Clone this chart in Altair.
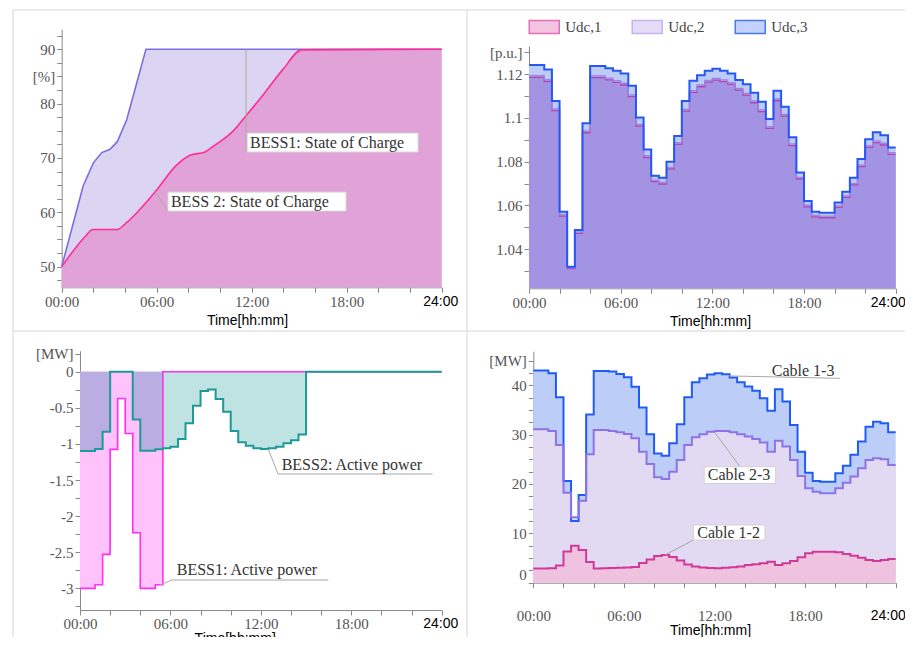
import altair as alt
import pandas as pd

SERIF = "Liberation Serif"
SANS = "Liberation Sans"

# ---------------- data ----------------
slot_hours = [i * 0.5 for i in range(49)]  # 00:00 ... 24:00, half-hour steps

# state of charge [%]
soc1_hours = [0, 1.36, 2.0, 2.53, 3.05, 3.51, 4.1, 5.32, 24]
soc1_values = [50, 64.9, 69.1, 71.0, 71.6, 73.0, 77.0, 90, 90]
soc2_hours = [0, 1.47, 1.96, 3.51, 4.06, 6.0, 7.16, 8.1, 9.05, 9.54, 10.0, 10.84,
              11.68, 12.74, 14.0, 15.16, 24]
soc2_values = [50, 55.5, 56.85, 56.85, 58.0, 64.1, 68.4, 70.5, 71.1, 72.1, 73.0, 75.0,
               77.9, 81.7, 86.4, 89.9, 90]

# DC voltages [p.u.] per half hour
udc1 = [1.1185, 1.1185, 1.1166, 1.1033, 1.0551, 1.0312, 1.0473, 1.0932, 1.1184, 1.1184,
        1.1173, 1.1162, 1.1150, 1.1097, 1.0962, 1.0819, 1.0709, 1.0698, 1.0767, 1.0879,
        1.1031, 1.1116, 1.1142, 1.1163, 1.1172, 1.1165, 1.1153, 1.1127, 1.1104, 1.1069,
        1.1028, 1.0952, 1.1078, 1.1008, 1.0873, 1.0721, 1.0594, 1.0548, 1.0544, 1.0544,
        1.0591, 1.0637, 1.0694, 1.0777, 1.0865, 1.0887, 1.0876, 1.0833]
udc2 = [1.1193, 1.1193, 1.1174, 1.1041, 1.0558, 1.0316, 1.0480, 1.0940, 1.1192, 1.1192,
        1.1181, 1.1170, 1.1158, 1.1105, 1.0970, 1.0827, 1.0716, 1.0705, 1.0774, 1.0887,
        1.1039, 1.1124, 1.1150, 1.1171, 1.1180, 1.1173, 1.1161, 1.1135, 1.1112, 1.1077,
        1.1036, 1.0960, 1.1086, 1.1016, 1.0881, 1.0728, 1.0601, 1.0555, 1.0551, 1.0551,
        1.0598, 1.0644, 1.0701, 1.0785, 1.0873, 1.0895, 1.0884, 1.0841]
udc3 = [1.1241, 1.1241, 1.1221, 1.1077, 1.0571, 1.0320, 1.0488, 1.0975, 1.1237, 1.1237,
        1.1226, 1.1215, 1.1203, 1.1147, 1.1002, 1.0856, 1.0736, 1.0727, 1.0800, 1.0917,
        1.1077, 1.1169, 1.1195, 1.1215, 1.1224, 1.1215, 1.1203, 1.1173, 1.1153, 1.1115,
        1.1074, 1.0995, 1.1124, 1.1051, 1.0911, 1.0751, 1.0620, 1.0571, 1.0567, 1.0567,
        1.0614, 1.0663, 1.0727, 1.0812, 1.0902, 1.0934, 1.0921, 1.0865]

# BESS active power [MW] per half hour
p_bess1 = [-3.0, -3.0, -2.95, -2.53, -1.075, -0.37, -0.855, -2.23, -3.0, -3.0, -2.95, 0,
           0, 0, 0, 0, 0, 0, 0, 0, 0, 0, 0, 0, 0, 0, 0, 0, 0, 0, 0, 0,
           0, 0, 0, 0, 0, 0, 0, 0, 0, 0, 0, 0, 0, 0, 0, 0]
p_bess2 = [-1.098, -1.098, -1.07, -0.83, 0, 0, 0, -0.66, -1.094, -1.094, -1.075, -1.06,
           -1.04, -0.93, -0.715, -0.47, -0.268, -0.245, -0.378, -0.554, -0.82, -0.978,
           -1.024, -1.06, -1.07, -1.06, -1.04, -0.99, -0.95, -0.87, 0, 0,
           0, 0, 0, 0, 0, 0, 0, 0, 0, 0, 0, 0, 0, 0, 0, 0]

# cable flows [MW] per half hour
cable_13 = [42.97, 42.97, 42.43, 37.57, 20.6, 12.5, 17.77, 34.1, 42.9, 42.9, 42.77, 42.3,
            41.6, 39.7, 35.5, 30.07, 26.2, 25.74, 28.24, 32.1, 37.57, 40.6, 41.4, 42.2,
            42.43, 42.23, 41.55, 40.6, 39.73, 38.9, 37.36, 34.86, 39.2, 36.7, 31.96, 26.55,
            22.3, 20.6, 20.47, 20.47, 22.16, 23.7, 25.9, 28.6, 31.6, 32.6, 32.3, 30.5]
cable_23 = [31.08, 31.08, 30.74, 27.9, 18.24, 13.24, 16.62, 26.0, 30.95, 30.95, 30.74, 30.47,
            30.14, 29.26, 26.55, 24.05, 21.35, 21.0, 22.5, 24.86, 27.9, 29.46, 30.07, 30.6,
            30.74, 30.74, 30.47, 30.07, 29.6, 29.1, 28.4, 26.55, 28.78, 27.57, 24.86, 21.62,
            19.12, 18.45, 18.1, 18.1, 19.12, 20.27, 21.5, 23.18, 24.86, 25.2, 25.0, 23.85]
cable_12 = [2.9, 2.9, 2.95, 3.5, 6.3, 7.5, 6.6, 4.2, 2.9, 2.95, 3.0, 3.05,
            3.1, 3.2, 4.0, 4.7, 5.4, 5.6, 5.2, 4.5, 3.7, 3.3, 3.1, 3.0,
            2.95, 3.05, 3.15, 3.3, 3.58, 3.72, 3.92, 4.26, 3.58, 3.92, 4.39, 5.14,
            5.95, 6.28, 6.28, 6.28, 6.15, 5.81, 5.47, 5.07, 4.6, 4.39, 4.6, 4.8]

udc_names = ["Udc,1", "Udc,2", "Udc,3"]
udc_fill_legend = ["#f2c4e0", "#e4dcf7", "#c3d2fa"]
udc_stroke_legend = ["#e070b8", "#c5b3f0", "#4b78f0"]


def stepframe(values, **extra):
    df = pd.DataFrame({"h": slot_hours, "v": list(values) + [values[-1]]})
    for k, val in extra.items():
        df[k] = val
    return df


# ---------------- panel geometry (scale ranges in view pixels) ----------------
TL = dict(xr=[53.7, 433.7], yd=[46.2, 93.7], yr=[279.3, 21.2], xoff=-349.7, yoff=-53.7,
          lp=2, tx=239, tp=4, end_off=-1.5,
          yvals=[47.5 + 2.5 * i for i in range(19)],
          ylab="datum.value == 85 ? '[%]' : (datum.value % 10 == 0 ? '' + datum.value : '')",
          flush=False)
TR = dict(xr=[521.0, 887.7], yd=[1.0222, 1.1328], yr=[280.3, 38.0], xoff=-348.7, yoff=-521.0,
          lp=2, tx=702, tp=4, end_off=-8,
          yvals=[1.03, 1.04, 1.05, 1.06, 1.07, 1.08, 1.09, 1.1, 1.11, 1.12, 1.13],
          ylab="datum.value > 1.125 ? '[p.u.]' : (round(datum.value * 100) % 2 == 0 ? '' + datum.value : '')",
          flush=False)
BL = dict(xr=[72.0, 433.7], yd=[-3.3, 0.29], yr=[602.0, 342.8], xoff=-27.0, yoff=-72.0,
          lp=1, tx=226.7, tp=0, end_off=-1.5,
          yvals=[-3.25 + 0.25 * i for i in range(15)],
          ylab="datum.value > 0.2 ? '[MW]' : (datum.value * 2 == round(datum.value * 2) ? '' + datum.value : '')",
          flush=False)
BR = dict(xr=[525.3, 887.7], yd=[0, 46.9], yr=[574.7, 343.2], xoff=-54.3, yoff=-525.3,
          lp=21, tx=702, tp=0, end_off=-8,
          yvals=[2.5 * i for i in range(19)],
          ylab="datum.value == 45 ? '[MW]' : (datum.value % 10 == 0 ? '' + datum.value : '')",
          flush=True)

IS24 = "datum.value == 24"


def time_axis(p):
    return alt.Axis(
        orient="bottom", offset=p["xoff"], values=list(range(0, 25, 2)),
        labelExpr="datum.value == 24 ? '24:00' : (datum.value % 6 == 0 ? "
                  "(datum.value < 10 ? '0' : '') + datum.value + ':00' : '')",
        labelFont={"condition": {"test": IS24, "value": SANS}, "value": SERIF},
        labelFontSize={"condition": {"test": IS24, "value": 14}, "value": 15},
        labelColor={"condition": {"test": IS24, "value": "#000000"}, "value": "#555555"},
        labelOffset={"condition": {"test": IS24, "value": p["end_off"]}, "value": 0},
        labelPadding=p["lp"], labelFlush=False, labelOverlap=False,
        domainColor="#8a8a8a", tickColor="#8a8a8a", tickSize=5, grid=False,
        title="Time[hh:mm]", titleFont=SANS, titleFontSize=14, titleFontWeight="normal",
        titleColor="#000000", titlePadding=p["tp"], titleX=p["tx"])


def value_axis(p):
    return alt.Axis(
        orient="left", offset=p["yoff"], values=p["yvals"], labelExpr=p["ylab"],
        labelFont=SERIF, labelFontSize=15, labelColor="#555555", labelPadding=2,
        labelFlush=p["flush"], labelOverlap=False, domainColor="#8a8a8a",
        tickColor="#8a8a8a", tickSize=5, grid=False, title="")


def X(p):
    return alt.X("h:Q", scale=alt.Scale(domain=[0, 24], range=p["xr"], nice=False, zero=False),
                 axis=time_axis(p))


def Y(p):
    return alt.Y("v:Q", scale=alt.Scale(domain=p["yd"], range=p["yr"], nice=False, zero=False),
                 axis=value_axis(p))


def rules(p, rows, color="#a8a8a8"):
    df = pd.DataFrame(rows, columns=["h", "v", "h2", "v2"])
    return alt.Chart(df).mark_rule(color=color, strokeWidth=1).encode(
        x=X(p), y=Y(p), x2="h2:Q", y2="v2:Q")


def boxes(p, rows):
    df = pd.DataFrame(rows, columns=["h", "v", "h2", "v2"])
    return alt.Chart(df).mark_rect(fill="white", stroke="#d2d2d2", strokeWidth=1).encode(
        x=X(p), y=Y(p), x2="h2:Q", y2="v2:Q")


def texts(p, rows):
    df = pd.DataFrame(rows, columns=["h", "v", "t"])
    return alt.Chart(df).mark_text(align="left", baseline="middle", font=SERIF, fontSize=16,
                                   color="#333333").encode(x=X(p), y=Y(p), text="t:N")


# ---------------- top-left: state of charge ----------------
soc1_df = pd.DataFrame({"h": soc1_hours, "v": soc1_values})
soc2_df = pd.DataFrame({"h": soc2_hours, "v": soc2_values})
tl = alt.layer(
    alt.Chart(soc1_df).mark_area(interpolate="linear", color="#dcd5f1").encode(
        x=X(TL), y=Y(TL), y2=alt.datum(46.2)),
    alt.Chart(soc2_df).mark_area(interpolate="monotone", color="#e1a3d7").encode(
        x=X(TL), y=Y(TL), y2=alt.datum(46.2)),
    alt.Chart(soc1_df).mark_line(interpolate="linear", color="#7d6ee0", strokeWidth=1.6).encode(
        x=X(TL), y=Y(TL)),
    alt.Chart(soc2_df).mark_line(interpolate="monotone", color="#ff2e97", strokeWidth=1.6).encode(
        x=X(TL), y=Y(TL)),
    rules(TL, [[11.64, 90, 11.64, 71.1], [5.83, 64.1, 6.71, 60.2]]),
    boxes(TL, [[11.71, 74.59, 22.51, 71.09], [6.71, 63.72, 17.96, 60.22]]),
    texts(TL, [[11.9, 72.84, "BESS1: State of Charge"], [6.9, 61.97, "BESS 2: State of Charge"]]),
)

# ---------------- top-right: DC voltages ----------------
udc_df = pd.concat([stepframe(udc1, series="Udc,1"), stepframe(udc2, series="Udc,2"),
                    stepframe(udc3, series="Udc,3")], ignore_index=True)
SYM = "M-1,-0.65L2,-0.65L2,0.65L-1,0.65Z"
leg = dict(orient="none", legendX=520.25, legendY=7.75, direction="horizontal", title=None,
           symbolType=SYM, symbolSize=400, symbolStrokeWidth=1.5, symbolOpacity=1,
           labelFont=SERIF, labelFontSize=15, labelColor="#444444", labelOffset=15,
           columnPadding=27, padding=0)


def udc_area(name, color):
    return alt.Chart(udc_df).transform_filter(alt.datum.series == name).mark_area(
        interpolate="step-after", color=color).encode(x=X(TR), y=Y(TR), y2=alt.datum(1.0222))


def udc_line(name, color, w):
    return alt.Chart(udc_df).transform_filter(alt.datum.series == name).mark_line(
        interpolate="step-after", color=color, strokeWidth=w).encode(x=X(TR), y=Y(TR))


tr = alt.layer(
    udc_area("Udc,3", "#bccbf7"),
    udc_area("Udc,2", "#b2a6ea"),
    udc_area("Udc,1", "#a294e3"),
    udc_line("Udc,1", "#b545b0", 1.3),
    udc_line("Udc,2", "#9a86e6", 1.3),
    udc_line("Udc,3", "#2457f5", 2),
    alt.Chart(udc_df).mark_point(filled=True, opacity=0, shape=SYM).encode(
        x=X(TR), y=Y(TR),
        fill=alt.Fill("series:N", scale=alt.Scale(domain=udc_names, range=udc_fill_legend),
                      legend=alt.Legend(**leg)),
        stroke=alt.Stroke("series:N", scale=alt.Scale(domain=udc_names, range=udc_stroke_legend),
                          legend=alt.Legend(**leg))),
)

# ---------------- bottom-left: BESS active power ----------------
pb1_df = stepframe(p_bess1)
pb2_df = stepframe(p_bess2)
bl = alt.layer(
    alt.Chart(pb1_df).mark_area(interpolate="step-after", color="#ffc2fb").encode(
        x=X(BL), y=Y(BL), y2=alt.datum(0)),
    alt.Chart(pb2_df).mark_area(interpolate="step-after", color="#bfe2e2").encode(
        x=X(BL), y=Y(BL), y2=alt.datum(0)),
    alt.Chart(pb2_df).transform_filter(alt.datum.h <= 5.5).mark_area(
        interpolate="step-after", color="#baade2").encode(x=X(BL), y=Y(BL), y2=alt.datum(0)),
    alt.Chart(pb1_df).mark_line(interpolate="step-after", color="#ff30ee", strokeWidth=1.6).encode(
        x=X(BL), y=Y(BL)),
    alt.Chart(pb2_df).mark_line(interpolate="step-after", color="#1f9898", strokeWidth=2).encode(
        x=X(BL), y=Y(BL)),
    rules(BL, [[12.5, -1.075, 13.14, -1.417], [13.14, -1.417, 23.4, -1.417],
               [5.31, -2.954, 6.09, -2.885], [6.09, -2.885, 16.48, -2.885]]),
    texts(BL, [[13.38, -1.292, "BESS2: Active power"], [6.42, -2.747, "BESS1: Active power"]]),
)

# ---------------- bottom-right: cable flows ----------------
c13_df = stepframe(cable_13)
c23_df = stepframe(cable_23)
c12_df = stepframe(cable_12)


def c_area(df, color):
    return alt.Chart(df).mark_area(interpolate="step-after", color=color).encode(
        x=X(BR), y=Y(BR), y2=alt.datum(0))


def c_line(df, color):
    return alt.Chart(df).mark_line(interpolate="step-after", color=color, strokeWidth=2).encode(
        x=X(BR), y=Y(BR))


br = alt.layer(
    c_area(c13_df, "#bccdf8"),
    c_area(c23_df, "#e2daf3"),
    c_area(c12_df, "#efc3df"),
    c_line(c13_df, "#1f5cf5"),
    c_line(c23_df, "#8c74e6"),
    c_line(c12_df, "#d03a96"),
    rules(BR, [[12.9, 41.9, 20.3, 41.4], [12.03, 30.4, 13.69, 23.5], [8.72, 5.61, 10.6, 8.65]]),
    boxes(BR, [[11.32, 23.5, 16.05, 20.1], [10.6, 11.69, 15.34, 8.64]]),
    texts(BR, [[15.79, 42.96, "Cable 1-3"], [11.55, 21.82, "Cable 2-3"], [10.86, 10.17, "Cable 1-2"]]),
)

# ---------------- panel frame ----------------
frame_df = pd.DataFrame({"k": [0]})
FC = "#e3e3e3"
frame = alt.layer(
    alt.Chart(frame_df).mark_rule(color=FC, strokeWidth=1.5).encode(
        x=alt.value(5), x2=alt.value(897), y=alt.value(2)),
    alt.Chart(frame_df).mark_rule(color=FC, strokeWidth=1.5).encode(
        x=alt.value(5), x2=alt.value(897), y=alt.value(323)),
    alt.Chart(frame_df).mark_rule(color=FC, strokeWidth=1.5).encode(
        x=alt.value(5), y=alt.value(2), y2=alt.value(629)),
    alt.Chart(frame_df).mark_rule(color=FC, strokeWidth=1.5).encode(
        x=alt.value(459), y=alt.value(2), y2=alt.value(629)),
)

chart = alt.layer(frame, tl, tr, bl, br).resolve_scale(
    x="independent", y="independent"
).properties(
    width=897, height=629, padding=0, autosize="none", background="white"
).configure_view(strokeWidth=0)

chart.save("out.html", embed_options={"renderer": "svg", "actions": False})
